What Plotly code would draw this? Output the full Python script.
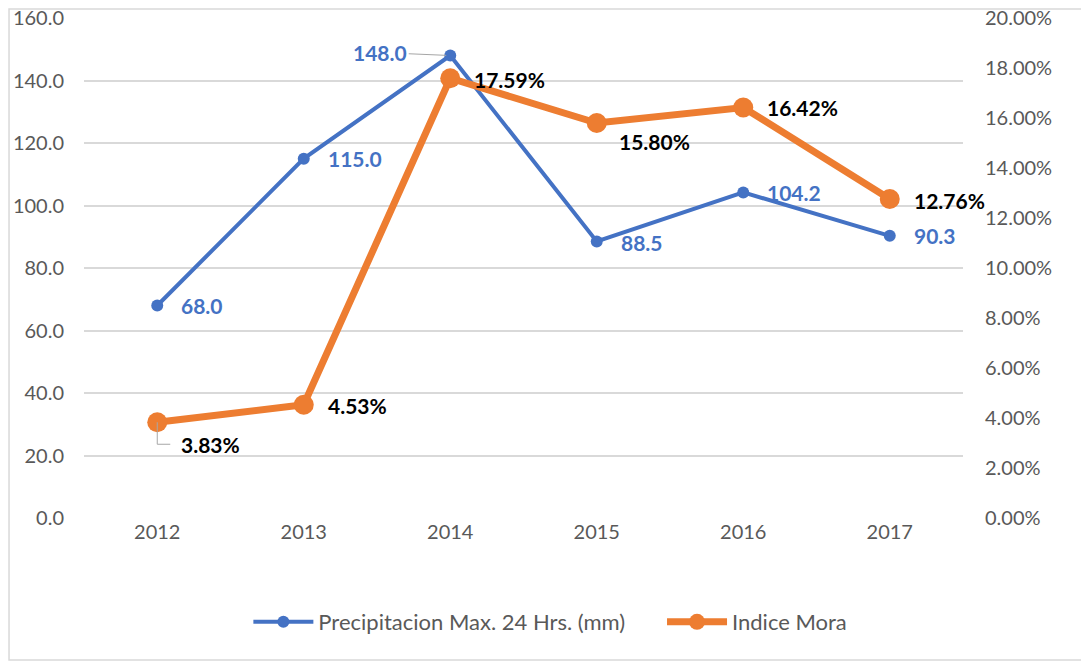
import plotly.graph_objects as go

years = ["2012", "2013", "2014", "2015", "2016", "2017"]
precip_mm = [68.0, 115.0, 148.0, 88.5, 104.2, 90.3]
indice_mora = [0.0383, 0.0453, 0.1759, 0.1580, 0.1642, 0.1276]

BLUE = "#4472C4"
ORANGE = "#ED7D31"
GRAY = "#595959"
FONT = "Lato, Open Sans, sans-serif"
TICK = 20
LABEL = 21

fig = go.Figure()
fig.add_trace(go.Scatter(
    x=years, y=precip_mm, name="Precipitacion Max. 24 Hrs. (mm)",
    mode="lines+markers", line=dict(color=BLUE, width=4),
    marker=dict(size=12, color=BLUE), legend="legend",
))
fig.add_trace(go.Scatter(
    x=years, y=indice_mora, name="Indice Mora", yaxis="y2",
    mode="lines+markers", line=dict(color=ORANGE, width=7),
    marker=dict(size=20, color=ORANGE), legend="legend2",
))

# data label offsets (pixels) - picked to match the original placement
blue_off = [(22, 0), (22, 0), (None, 3), (22, -1), (22, 0), (22, 0)]
orange_off = [(22, -22), (22, -1), (22, -1), (20, -18), (22, 0), (22, -1)]

# annotations use the category index (numeric-looking year strings
# would otherwise be read as index 2012, 2013, ...)
for i, (v, (dx, dy)) in enumerate(zip(precip_mm, blue_off)):
    if dx is None:
        fig.add_annotation(
            x=i, y=v, text=f"<b>{v:.1f}</b>", showarrow=True, arrowhead=0,
            arrowcolor="#a6a6a6", arrowwidth=1, ax=-70, ay=-3, standoff=4,
            font=dict(color=BLUE, size=LABEL, family=FONT),
        )
    else:
        fig.add_annotation(
            x=i, y=v, text=f"<b>{v:.1f}</b>", showarrow=False,
            xanchor="left", xshift=dx, yshift=dy,
            font=dict(color=BLUE, size=LABEL, family=FONT),
        )

for i, (v, (dx, dy)) in enumerate(zip(indice_mora, orange_off)):
    fig.add_annotation(
        x=i, y=v, yref="y2", text=f"<b>{v * 100:.2f}%</b>", showarrow=False,
        xanchor="left", xshift=dx, yshift=dy,
        font=dict(color="black", size=LABEL, family=FONT),
    )

# elbow leader line for the 2012 mora label
fig.add_shape(
    type="path", xref="x", yref="y2", xsizemode="pixel", ysizemode="pixel",
    xanchor=0, yanchor=indice_mora[0],
    path="M0,0 L0,-22 L13,-22", line=dict(color="#a6a6a6", width=1),
)

# outer chart border
fig.add_shape(
    type="rect", xref="paper", yref="paper",
    x0=-0.0853, x1=1.141, y0=-0.284, y1=1.018,
    line=dict(color="#d9d9d9", width=1.5), layer="below",
)

legend_common = dict(orientation="h", xanchor="left", y=-0.166,
                     yanchor="top", font=dict(size=22, color=GRAY),
                     itemwidth=60)

# page has an 8px body margin, so the figure is drawn 8px smaller
fig.update_layout(
    width=1081, height=654,
    margin=dict(l=76, r=126, t=10, b=144),
    plot_bgcolor="white", paper_bgcolor="white",
    font=dict(family=FONT, size=TICK, color=GRAY),
    showlegend=True,
    legend=dict(x=0.187, **legend_common),
    legend2=dict(x=0.6576, **legend_common),
    xaxis=dict(type="category", range=[-0.5, 5.5], showgrid=False,
               showline=False, ticks="", automargin=False,
               tickfont=dict(size=TICK, color=GRAY)),
    yaxis=dict(range=[0, 160.01], dtick=20, tickformat=".1f",
               gridcolor="#d9d9d9", gridwidth=1.5, zeroline=False,
               showline=False, ticks="", ticklabelstandoff=19,
               ticklabeloverflow="allow",
               automargin=False, tickfont=dict(size=TICK, color=GRAY)),
    yaxis2=dict(range=[0, 0.20001], dtick=0.02, tickformat=".2%",
                overlaying="y", side="right", showgrid=False,
                zeroline=False, showline=False, ticks="",
                ticklabelstandoff=21, ticklabeloverflow="allow",
                automargin=False, tickfont=dict(size=TICK, color=GRAY)),
)

fig.write_html("out.html")
